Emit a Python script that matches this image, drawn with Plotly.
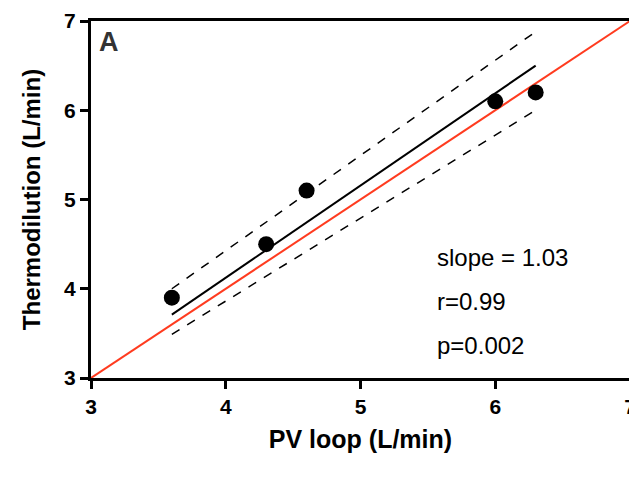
import plotly.graph_objects as go

# 测量数据：PV loop vs 热稀释法
pv_loop = [3.6, 4.3, 4.6, 6.0, 6.3]
thermo = [3.9, 4.5, 5.1, 6.1, 6.2]

# 回归线与置信带（端点读自原图）
fit_x = [3.6, 6.3]
fit_y = [3.71, 6.5]
upper_y = [4.0, 6.88]
lower_y = [3.49, 6.0]

identity = [3, 7]

stats_lines = ["slope = 1.03", "r=0.99", "p=0.002"]
stats_y = [4.35, 3.86, 3.36]

FONT = "Liberation Sans, Arial"

fig = go.Figure()
fig.add_trace(go.Scatter(x=identity, y=identity, mode="lines",
                         line=dict(color="#ff3b1f", width=2), cliponaxis=False))
fig.add_trace(go.Scatter(x=fit_x, y=upper_y, mode="lines",
                         line=dict(color="black", width=1.5, dash="dash")))
fig.add_trace(go.Scatter(x=fit_x, y=lower_y, mode="lines",
                         line=dict(color="black", width=1.5, dash="dash")))
fig.add_trace(go.Scatter(x=fit_x, y=fit_y, mode="lines",
                         line=dict(color="black", width=2)))
fig.add_trace(go.Scatter(x=pv_loop, y=thermo, mode="markers",
                         marker=dict(color="black", size=16), cliponaxis=False))

for txt, yv in zip(stats_lines, stats_y):
    fig.add_annotation(x=5.555, y=yv, text=txt, showarrow=False, xanchor="left",
                       font=dict(family=FONT, size=24, color="black"))

fig.add_annotation(x=0.012, y=0.988, xref="paper", yref="paper", text="<b>A</b>",
                   showarrow=False, xanchor="left", yanchor="top",
                   font=dict(family=FONT, size=27, color="#333"))

axis_common = dict(
    range=[3, 7], dtick=1, showgrid=False, zeroline=False, automargin=False,
    showline=True, linecolor="black", linewidth=3, mirror=True,
    ticks="outside", ticklen=8, tickwidth=3, tickcolor="black",
    ticklabeloverflow="allow",
    tickfont=dict(family=FONT, size=21, color="black", weight="bold"),
)

# 页面 body 默认有 8px 边距，所以画布整体缩小 8px 来对齐
fig.update_layout(
    width=629, height=469,
    margin=dict(l=83, r=7, t=13, b=99),
    plot_bgcolor="white", paper_bgcolor="white",
    showlegend=False,
    xaxis=dict(**axis_common, title=dict(text="<b>PV loop (L/min)</b>", standoff=14,
               font=dict(family=FONT, size=25, color="black"))),
    yaxis=dict(**axis_common, title=dict(text="<b>Thermodilution (L/min)</b>", standoff=17,
               font=dict(family=FONT, size=24, color="black"))),
)

fig.write_html("out.html")
